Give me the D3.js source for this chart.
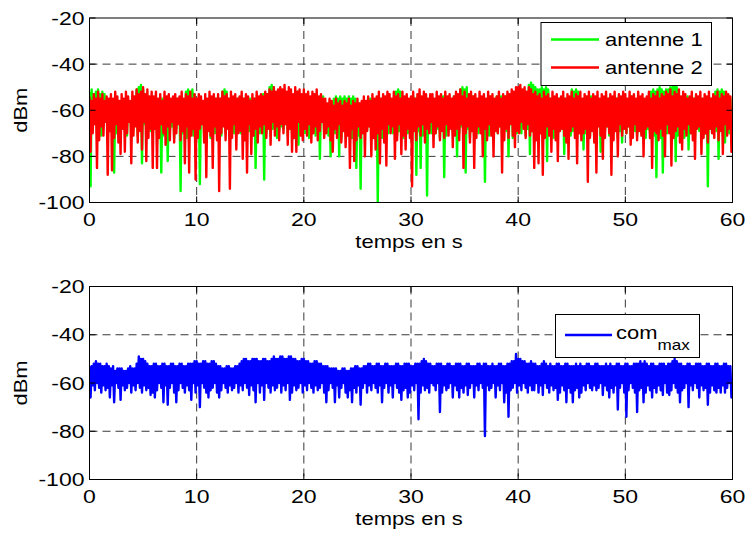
<!DOCTYPE html>
<html><head><meta charset="utf-8">
<script src="https://cdn.jsdelivr.net/npm/d3@7"></script>
<style>
body{margin:0;background:#fff}
text{font-family:"Liberation Sans",Arial,Helvetica,sans-serif;fill:#000}
</style>
</head><body>
<svg id="chart" width="747" height="533"></svg>
<script>
// ---- data (dBm, one sample every 0.1 s from 0 to 60 s) ----
const timeStep = 0.1;
const antenne1 = [
-52,-93,-51,-68,-53,-65,-52,-70,-51,-66,-53,-71,-52,-67,-53,-64,-56,-72,-57,-69,
-56,-66,-57,-87,-55,-70,-56,-65,-57,-72,-56,-68,-57,-67,-55,-71,-56,-64,-57,-69,
-54,-68,-55,-65,-51,-71,-50,-67,-49,-83,-51,-66,-55,-70,-54,-64,-55,-69,-54,-67,
-56,-66,-55,-70,-57,-68,-56,-87,-55,-71,-56,-65,-57,-82,-55,-69,-56,-67,-57,-72,
-56,-68,-55,-65,-56,-95,-55,-70,-56,-67,-52,-72,-51,-66,-52,-69,-51,-71,-53,-64,
-56,-69,-55,-92,-56,-66,-57,-71,-55,-65,-56,-68,-55,-72,-56,-67,-57,-70,-55,-66,
-56,-68,-55,-71,-52,-65,-51,-70,-52,-67,-55,-72,-56,-66,-55,-70,-56,-69,-55,-64,
-55,-70,-56,-66,-55,-72,-57,-67,-56,-69,-55,-68,-56,-71,-55,-85,-56,-65,-55,-70,
-54,-67,-53,-90,-54,-70,-53,-66,-50,-71,-49,-68,-50,-65,-53,-72,-54,-69,-53,-67,
-53,-68,-52,-66,-53,-71,-54,-67,-53,-70,-54,-65,-53,-72,-52,-75,-53,-69,-54,-66,
-54,-70,-55,-67,-54,-72,-56,-66,-55,-69,-54,-71,-55,-68,-56,-81,-55,-65,-54,-70,
-57,-68,-58,-71,-57,-80,-58,-66,-55,-70,-54,-67,-55,-80,-54,-72,-55,-69,-54,-66,
-55,-70,-54,-67,-55,-72,-54,-68,-55,-85,-58,-71,-57,-94,-58,-66,-57,-70,-58,-69,
-56,-67,-55,-71,-56,-68,-57,-70,-55,-100,-56,-66,-55,-72,-56,-69,-57,-67,-55,-70,
-55,-68,-56,-70,-55,-66,-52,-71,-51,-69,-52,-67,-55,-72,-56,-68,-55,-70,-56,-66,
-55,-70,-54,-67,-55,-88,-56,-69,-54,-85,-55,-71,-54,-66,-55,-97,-56,-68,-54,-70,
-55,-67,-56,-70,-55,-68,-56,-72,-55,-66,-54,-89,-55,-71,-56,-69,-55,-67,-56,-70,
-54,-69,-55,-80,-54,-70,-51,-67,-50,-71,-51,-87,-50,-68,-54,-72,-55,-66,-54,-70,
-55,-67,-56,-70,-55,-68,-56,-72,-55,-91,-56,-69,-55,-71,-54,-66,-55,-70,-56,-68,
-54,-70,-55,-67,-54,-71,-55,-68,-54,-69,-55,-80,-54,-66,-53,-72,-54,-68,-52,-70,
-52,-67,-51,-70,-53,-66,-52,-71,-53,-68,-49,-79,-48,-69,-49,-72,-50,-67,-51,-70,
-51,-69,-50,-71,-51,-67,-50,-82,-51,-70,-55,-68,-56,-72,-55,-66,-56,-70,-55,-69,
-55,-68,-56,-79,-55,-70,-56,-67,-55,-71,-51,-69,-52,-66,-51,-72,-52,-68,-55,-70,
-56,-77,-55,-70,-56,-68,-55,-71,-54,-67,-55,-72,-56,-69,-55,-66,-56,-78,-55,-70,
-55,-69,-56,-67,-55,-71,-56,-68,-55,-70,-56,-66,-55,-72,-54,-69,-55,-74,-56,-68,
-55,-70,-56,-67,-55,-72,-54,-68,-55,-69,-56,-71,-55,-66,-56,-70,-55,-68,-56,-72,
-55,-68,-56,-70,-52,-67,-51,-71,-52,-89,-51,-69,-50,-72,-51,-87,-52,-68,-51,-70,
-51,-67,-50,-70,-50,-69,-49,-82,-50,-71,-54,-68,-55,-66,-54,-72,-55,-69,-54,-77,
-55,-70,-56,-68,-55,-72,-54,-67,-55,-69,-56,-71,-55,-66,-56,-70,-55,-93,-54,-68,
-55,-70,-56,-67,-52,-69,-51,-81,-52,-68,-51,-71,-52,-74,-55,-66,-54,-70,-55,-68,
-60
];
const antenne2 = [
-54,-78,-56,-70,-53,-66,-55,-85,-52,-73,-55,-67,-53,-71,-56,-65,-54,-88,-55,-69,
-53,-86,-55,-72,-52,-66,-54,-74,-56,-79,-53,-68,-55,-78,-52,-70,-54,-65,-56,-83,
-52,-71,-54,-67,-51,-74,-53,-69,-52,-77,-50,-65,-53,-82,-51,-72,-54,-68,-52,-85,
-54,-68,-52,-85,-55,-72,-53,-66,-56,-70,-52,-75,-54,-67,-53,-73,-55,-65,-54,-74,
-53,-70,-55,-66,-54,-73,-52,-69,-55,-83,-53,-67,-54,-87,-52,-71,-55,-68,-53,-90,
-55,-72,-53,-68,-54,-66,-56,-74,-53,-89,-55,-69,-52,-71,-54,-85,-53,-67,-55,-73,
-53,-95,-55,-70,-52,-67,-54,-73,-53,-68,-55,-94,-52,-72,-54,-66,-53,-77,-55,-70,
-54,-69,-52,-81,-55,-73,-53,-87,-54,-66,-56,-79,-53,-71,-55,-68,-52,-74,-54,-67,
-53,-70,-54,-66,-52,-72,-53,-68,-51,-75,-52,-65,-50,-71,-52,-67,-51,-73,-50,-66,
-51,-70,-49,-66,-52,-75,-50,-68,-51,-78,-53,-72,-50,-78,-52,-65,-51,-71,-53,-73,
-51,-68,-53,-71,-52,-66,-54,-74,-52,-70,-53,-67,-51,-73,-54,-69,-53,-65,-55,-72,
-55,-70,-57,-67,-55,-73,-56,-78,-58,-68,-55,-72,-57,-66,-56,-74,-58,-69,-56,-76,
-57,-71,-55,-85,-58,-68,-56,-82,-57,-73,-55,-67,-57,-72,-56,-70,-54,-80,-56,-69,
-54,-67,-56,-80,-53,-72,-55,-77,-54,-70,-52,-83,-55,-68,-53,-74,-54,-84,-52,-66,
-53,-70,-55,-67,-52,-81,-54,-73,-53,-66,-55,-79,-52,-71,-54,-77,-53,-68,-55,-72,
-54,-93,-52,-69,-55,-73,-53,-67,-51,-71,-54,-66,-52,-74,-53,-68,-55,-70,-53,-65,
-53,-76,-55,-70,-52,-67,-54,-73,-53,-69,-55,-72,-52,-66,-54,-71,-53,-68,-55,-76,
-54,-71,-52,-68,-53,-73,-51,-66,-54,-85,-52,-70,-55,-67,-53,-74,-52,-69,-54,-85,
-53,-72,-55,-67,-52,-70,-54,-80,-53,-68,-55,-73,-52,-66,-54,-71,-53,-80,-55,-69,
-54,-70,-52,-67,-55,-87,-53,-73,-54,-68,-52,-72,-53,-66,-51,-71,-52,-76,-50,-69,
-50,-70,-49,-65,-51,-68,-50,-72,-52,-66,-50,-71,-51,-69,-53,-85,-52,-73,-54,-83,
-53,-70,-55,-88,-52,-72,-54,-67,-53,-71,-55,-78,-52,-68,-54,-73,-53,-82,-55,-69,
-54,-68,-52,-71,-55,-74,-53,-81,-54,-69,-52,-67,-55,-72,-53,-83,-54,-70,-52,-73,
-55,-70,-53,-68,-54,-91,-52,-72,-55,-69,-53,-74,-54,-87,-52,-67,-55,-71,-53,-81,
-54,-72,-52,-67,-55,-70,-53,-88,-54,-73,-52,-69,-55,-80,-53,-66,-54,-71,-52,-68,
-53,-70,-55,-67,-52,-75,-54,-72,-53,-66,-55,-73,-52,-69,-54,-71,-53,-80,-55,-68,
-54,-67,-52,-72,-55,-85,-53,-69,-54,-70,-52,-73,-55,-68,-53,-71,-54,-80,-52,-66,
-53,-70,-51,-84,-54,-72,-52,-69,-53,-67,-51,-74,-54,-77,-52,-68,-53,-71,-55,-66,
-54,-70,-52,-73,-55,-81,-53,-68,-54,-67,-52,-79,-55,-72,-53,-70,-54,-74,-52,-68,
-55,-70,-53,-72,-54,-67,-52,-73,-55,-69,-53,-79,-54,-66,-52,-71,-53,-68,-54,-78,
-78
];
const comMax = [
-53,-66,-53,-61,-52,-63,-51,-60,-52,-62,-52,-64,-53,-61,-53,-63,-52,-62,-53,-66,
-54,-61,-53,-68,-55,-60,-54,-62,-54,-67,-54,-61,-55,-63,-55,-62,-54,-60,-53,-64,
-54,-61,-54,-63,-52,-60,-49,-62,-50,-64,-50,-61,-51,-63,-52,-62,-53,-65,-53,-64,
-52,-66,-52,-63,-53,-60,-53,-62,-52,-68,-52,-61,-53,-69,-53,-62,-52,-60,-52,-64,
-53,-68,-53,-63,-52,-60,-52,-62,-53,-64,-53,-61,-52,-63,-52,-67,-52,-60,-51,-64,
-51,-61,-52,-70,-52,-60,-51,-62,-51,-64,-52,-66,-52,-63,-51,-62,-51,-60,-52,-64,
-53,-66,-53,-63,-54,-60,-54,-62,-53,-64,-53,-61,-54,-63,-54,-62,-53,-60,-53,-64,
-52,-61,-51,-63,-50,-60,-50,-62,-51,-65,-51,-61,-50,-63,-50,-68,-50,-60,-51,-64,
-51,-61,-50,-67,-50,-60,-51,-62,-51,-64,-50,-61,-49,-63,-50,-62,-50,-60,-49,-64,
-49,-61,-50,-63,-50,-60,-49,-67,-49,-64,-50,-61,-50,-63,-51,-62,-51,-60,-50,-64,
-50,-61,-51,-63,-51,-60,-52,-62,-52,-64,-51,-61,-51,-63,-52,-62,-52,-60,-53,-64,
-53,-68,-53,-63,-54,-60,-54,-62,-54,-68,-54,-61,-55,-66,-55,-62,-54,-60,-54,-64,
-55,-66,-55,-63,-54,-68,-54,-62,-53,-64,-53,-61,-54,-69,-54,-62,-53,-60,-53,-64,
-52,-61,-52,-63,-53,-60,-53,-62,-52,-64,-52,-61,-53,-68,-53,-62,-52,-60,-52,-64,
-53,-61,-53,-66,-53,-60,-52,-62,-52,-64,-53,-67,-53,-63,-52,-62,-52,-66,-52,-64,
-53,-61,-53,-63,-52,-60,-52,-75,-52,-64,-51,-61,-50,-63,-51,-62,-52,-64,-52,-60,
-53,-61,-53,-63,-52,-60,-52,-72,-52,-64,-53,-61,-53,-63,-52,-62,-52,-60,-53,-66,
-53,-61,-52,-63,-52,-66,-52,-62,-53,-64,-53,-61,-52,-65,-52,-62,-53,-60,-53,-66,
-53,-61,-52,-63,-52,-60,-53,-62,-52,-82,-52,-61,-53,-63,-53,-62,-52,-60,-53,-66,
-53,-61,-52,-63,-52,-60,-53,-68,-53,-64,-52,-74,-52,-63,-51,-62,-51,-60,-48,-64,
-50,-61,-50,-63,-51,-60,-51,-62,-52,-64,-52,-61,-51,-63,-52,-63,-52,-60,-53,-64,
-53,-61,-52,-65,-51,-60,-52,-62,-53,-64,-52,-61,-53,-63,-53,-62,-52,-67,-52,-64,
-53,-61,-53,-63,-52,-68,-52,-62,-53,-64,-53,-68,-53,-63,-52,-62,-53,-66,-52,-64,
-53,-61,-53,-63,-52,-60,-52,-62,-53,-63,-53,-61,-52,-63,-52,-62,-53,-60,-53,-65,
-53,-61,-52,-63,-53,-66,-52,-62,-53,-64,-53,-61,-52,-71,-52,-62,-53,-60,-53,-64,
-52,-74,-52,-63,-53,-60,-53,-62,-52,-64,-52,-72,-52,-63,-51,-62,-52,-68,-51,-64,
-52,-61,-53,-63,-52,-66,-52,-62,-53,-64,-53,-61,-52,-63,-52,-65,-52,-60,-53,-64,
-52,-65,-52,-63,-51,-60,-50,-62,-51,-64,-52,-68,-52,-63,-53,-62,-53,-60,-52,-70,
-52,-61,-53,-63,-53,-60,-52,-62,-52,-66,-52,-61,-53,-63,-53,-62,-52,-69,-52,-64,
-53,-61,-53,-63,-52,-64,-52,-62,-53,-64,-53,-61,-52,-64,-52,-62,-53,-60,-53,-66,
-58
];
const xTicks = [0, 10, 20, 30, 40, 50, 60];
const yTicks = [-100, -80, -60, -40, -20];
const xDomain = [0, 60];
const yDomain = [-100, -20];
const xLabel = "temps en s";
const yLabel = "dBm";
const legendTop = ["antenne 1", "antenne 2"];
const legendBottomMain = "com";
const legendBottomSub = "max";

// ---- layout ----
const svg = d3.select("#chart");
svg.append("rect").attr("width", 747).attr("height", 533).attr("fill", "#fff");
const left = 89.5, right = 732.5;
const x = d3.scaleLinear().domain(xDomain).range([left, right]);
const SX = 1.22;   // horizontal stretch of the original fonts

function label(g, px, py, str, size, anchor, rot, sx) {
  return g.append("text")
    .attr("transform", `translate(${px},${py})` + (rot ? ` rotate(${rot})` : "") + ` scale(${sx || SX},1)`)
    .attr("text-anchor", anchor)
    .attr("font-size", size)
    .text(str);
}

const panels = [
  { id: "p1", top: 18, bottom: 202.5,
    series: [{ data: antenne1, color: "#00ff00" }, { data: antenne2, color: "#ff0000" }] },
  { id: "p2", top: 286.5, bottom: 479.5,
    series: [{ data: comMax, color: "#0000ff" }] }
];

panels.forEach((p, pi) => {
  const y = d3.scaleLinear().domain(yDomain).range([p.bottom, p.top]);
  const g = svg.append("g");

  g.append("clipPath").attr("id", "clip" + p.id)
    .append("rect").attr("x", left).attr("y", p.top)
    .attr("width", right - left).attr("height", p.bottom - p.top);

  // grid
  const grid = g.append("g").attr("stroke", "#222").attr("stroke-width", 0.9)
    .attr("stroke-dasharray", "8,5").attr("fill", "none");
  xTicks.slice(1, -1).forEach(v => grid.append("line")
    .attr("x1", x(v)).attr("x2", x(v)).attr("y1", p.top).attr("y2", p.bottom));
  yTicks.slice(1, -1).forEach(v => grid.append("line")
    .attr("x1", left).attr("x2", right).attr("y1", y(v)).attr("y2", y(v)));

  // data lines
  const line = d3.line().x((d, i) => x(i * timeStep)).y(d => y(d));
  const dg = g.append("g").attr("clip-path", `url(#clip${p.id})`);
  p.series.forEach(s => dg.append("path").datum(s.data)
    .attr("d", line).attr("fill", "none").attr("stroke", s.color)
    .attr("stroke-width", 2.4).attr("stroke-linejoin", "round"));

  // frame & inward ticks
  g.append("rect").attr("x", left).attr("y", p.top)
    .attr("width", right - left).attr("height", p.bottom - p.top)
    .attr("fill", "none").attr("stroke", "#000").attr("stroke-width", 1);
  const tk = g.append("g").attr("stroke", "#000").attr("stroke-width", 1);
  const L = 6;
  xTicks.forEach(v => {
    tk.append("line").attr("x1", x(v)).attr("x2", x(v)).attr("y1", p.bottom).attr("y2", p.bottom - L);
    tk.append("line").attr("x1", x(v)).attr("x2", x(v)).attr("y1", p.top).attr("y2", p.top + L);
  });
  yTicks.forEach(v => {
    tk.append("line").attr("x1", left).attr("x2", left + L).attr("y1", y(v)).attr("y2", y(v));
    tk.append("line").attr("x1", right).attr("x2", right - L).attr("y1", y(v)).attr("y2", y(v));
  });

  // tick labels (plain hyphen-minus as in the original)
  yTicks.forEach(v => label(g, 84.5, y(v) + 6.5, String(v), 18, "end", 0, 1.28));
  xTicks.forEach(v => label(g, x(v), p.bottom + 23, String(v), 18, "middle", 0, 1.28));

  // axis titles
  label(g, (left + right) / 2 - 2, p.bottom + 45, xLabel, 18, "middle");
  label(g, 26.5, (p.top + p.bottom) / 2, yLabel, 18, "middle", -90);

  // legends
  if (pi === 0) {
    const lg = g.append("g");
    lg.append("rect").attr("x", 541).attr("y", 22.5).attr("width", 170.5).attr("height", 63)
      .attr("fill", "#fff").attr("stroke", "#000").attr("stroke-width", 1);
    legendTop.forEach((name, k) => {
      const yy = 39.5 + k * 28;
      lg.append("line").attr("x1", 551).attr("x2", 599).attr("y1", yy).attr("y2", yy)
        .attr("stroke", p.series[k].color).attr("stroke-width", 2.4);
      label(lg, 605, yy + 6.5, name, 18, "start");
    });
  } else {
    const lg = g.append("g");
    lg.append("rect").attr("x", 555.5).attr("y", 314.5).attr("width", 144).attr("height", 43)
      .attr("fill", "#fff").attr("stroke", "#000").attr("stroke-width", 1);
    lg.append("line").attr("x1", 565).attr("x2", 612).attr("y1", 335).attr("y2", 335)
      .attr("stroke", p.series[0].color).attr("stroke-width", 2.4);
    const t = label(lg, 616, 338.5, "", 18, "start");
    t.append("tspan").text(legendBottomMain);
    t.append("tspan").attr("font-size", 14).attr("dy", 11.5).text(legendBottomSub);
  }
});
</script>
</body></html>
